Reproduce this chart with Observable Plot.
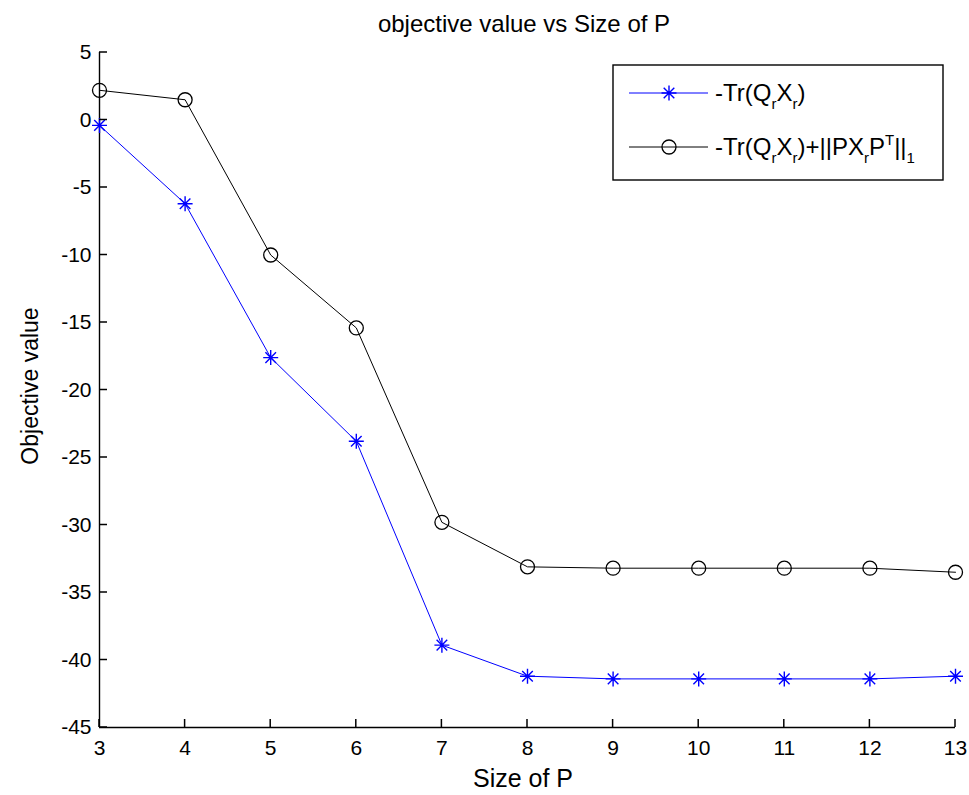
<!DOCTYPE html>
<html>
<head>
<meta charset="utf-8">
<script src="https://cdn.jsdelivr.net/npm/d3@7"></script>
<script src="https://cdn.jsdelivr.net/npm/@observablehq/plot@0.6"></script>
<style>
  html, body { margin: 0; padding: 0; background: #fff; }
  svg text { font-family: "Liberation Sans", Arial, sans-serif; }
</style>
</head>
<body>
<div id="chart"></div>
<script>
const sizes = [3, 4, 5, 6, 7, 8, 9, 10, 11, 12, 13];
const trValues = [-0.4, -6.2, -17.6, -23.8, -38.9, -41.2, -41.4, -41.4, -41.4, -41.4, -41.2];
const trRegValues = [2.2, 1.5, -10.0, -15.4, -29.8, -33.1, -33.2, -33.2, -33.2, -33.2, -33.5];
const xTicks = [3, 4, 5, 6, 7, 8, 9, 10, 11, 12, 13];
const yTicks = [5, 0, -5, -10, -15, -20, -25, -30, -35, -40, -45];

const tr = sizes.map((s, i) => ({size: s, value: trValues[i]}));
const trReg = sizes.map((s, i) => ({size: s, value: trRegValues[i]}));

// MATLAB-style 8-armed asterisk
const star8 = {
  draw(context, size) {
    const r = Math.sqrt(size / Math.PI);
    const d = r * Math.SQRT1_2;
    context.moveTo(0, -r); context.lineTo(0, r);
    context.moveTo(-r, 0); context.lineTo(r, 0);
    context.moveTo(-d, -d); context.lineTo(d, d);
    context.moveTo(-d, d); context.lineTo(d, -d);
  }
};

const W = 969, H = 795;
const mL = 99, mR = 14, mT = 52, mB = 68;

const chart = Plot.plot({
  width: W,
  height: H,
  marginLeft: mL,
  marginRight: mR,
  marginTop: mT,
  marginBottom: mB,
  style: {background: "#fff", fontFamily: "Liberation Sans, Arial, sans-serif"},
  x: {domain: [3, 13], label: null},
  y: {domain: [-45, 5], label: null},
  marks: [
    Plot.ruleX([3], {y1: -45, y2: 5, stroke: "#000", strokeWidth: 1.4}),
    Plot.ruleY([-45], {x1: 3, x2: 13, stroke: "#000", strokeWidth: 1.4}),
    Plot.axisX({ticks: xTicks, tickSize: 0, tickPadding: 13, fontSize: 21, color: "#000", label: null, tickFormat: d => String(d)}),
    Plot.axisY({ticks: yTicks, tickSize: 0, tickPadding: 8, fontSize: 21, color: "#000", label: null, tickFormat: d => String(d)}),
    Plot.line(trReg, {x: "size", y: "value", stroke: "#000", strokeWidth: 1}),
    Plot.dot(trReg, {x: "size", y: "value", r: 7, stroke: "#000", fill: "none", strokeWidth: 1.3}),
    Plot.line(tr, {x: "size", y: "value", stroke: "#0000ff", strokeWidth: 1}),
    Plot.dot(tr, {x: "size", y: "value", r: 7.5, symbol: star8, stroke: "#0000ff", strokeWidth: 1.4})
  ]
});

document.getElementById("chart").appendChild(chart);

const svg = d3.select(chart);
const sx = chart.scale("x"), sy = chart.scale("y");

// inward tick marks placed with the plot's own scales
const tg = svg.append("g").attr("stroke", "#000").attr("stroke-width", 1.5);
xTicks.forEach(v => {
  const px = sx.apply(v), py = sy.apply(-45);
  tg.append("line").attr("x1", px).attr("x2", px).attr("y1", py).attr("y2", py - 8);
});
yTicks.forEach(v => {
  const px = sx.apply(3), py = sy.apply(v);
  tg.append("line").attr("x1", px).attr("x2", px + 8).attr("y1", py).attr("y2", py);
});

// Title
svg.append("text").attr("x", 524).attr("y", 32).attr("text-anchor", "middle")
  .attr("font-size", 24).attr("fill", "#000").text("objective value vs Size of P");
// X label
svg.append("text").attr("x", 523).attr("y", 787).attr("text-anchor", "middle")
  .attr("font-size", 25).attr("fill", "#000").text("Size of P");
// Y label
svg.append("text").attr("transform", "translate(38,386) rotate(-90)").attr("text-anchor", "middle")
  .attr("font-size", 23).attr("fill", "#000").text("Objective value");

// Legend
const lg = svg.append("g");
lg.append("rect").attr("x", 613).attr("y", 65).attr("width", 330).attr("height", 115)
  .attr("fill", "#fff").attr("stroke", "#000").attr("stroke-width", 1.4);

function legendEntry(y, color, marker, parts) {
  lg.append("line").attr("x1", 629).attr("x2", 708).attr("y1", y).attr("y2", y)
    .attr("stroke", color).attr("stroke-width", 1);
  if (marker === "circle") {
    lg.append("circle").attr("cx", 669).attr("cy", y).attr("r", 7)
      .attr("fill", "none").attr("stroke", color).attr("stroke-width", 1.3);
  } else {
    lg.append("path").attr("transform", `translate(669,${y})`)
      .attr("d", d3.symbol(star8, Math.PI * 7.5 * 7.5)())
      .attr("stroke", color).attr("stroke-width", 1.4).attr("fill", "none");
  }
  const t = lg.append("text").attr("x", 715).attr("y", y + 8).attr("font-size", 24)
    .attr("text-anchor", "start").attr("fill", "#000");
  parts.forEach(p => {
    const ts = t.append("tspan").text(p.t);
    if (p.sub) ts.attr("font-size", 15).attr("dy", 8);
    if (p.sup) ts.attr("font-size", 15).attr("dy", -10);
    if (p.reset !== undefined) ts.attr("dy", p.reset);
  });
}

legendEntry(93, "#0000ff", "star", [
  {t: "-Tr(Q"}, {t: "r", sub: true}, {t: "X", reset: -8}, {t: "r", sub: true}, {t: ")", reset: -8}
]);
legendEntry(147, "#000", "circle", [
  {t: "-Tr(Q"}, {t: "r", sub: true}, {t: "X", reset: -8}, {t: "r", sub: true}, {t: ")+||PX", reset: -8},
  {t: "r", sub: true}, {t: "P", reset: -8}, {t: "T", sup: true}, {t: "||", reset: 10}, {t: "1", sub: true}
]);
</script>
</body>
</html>
